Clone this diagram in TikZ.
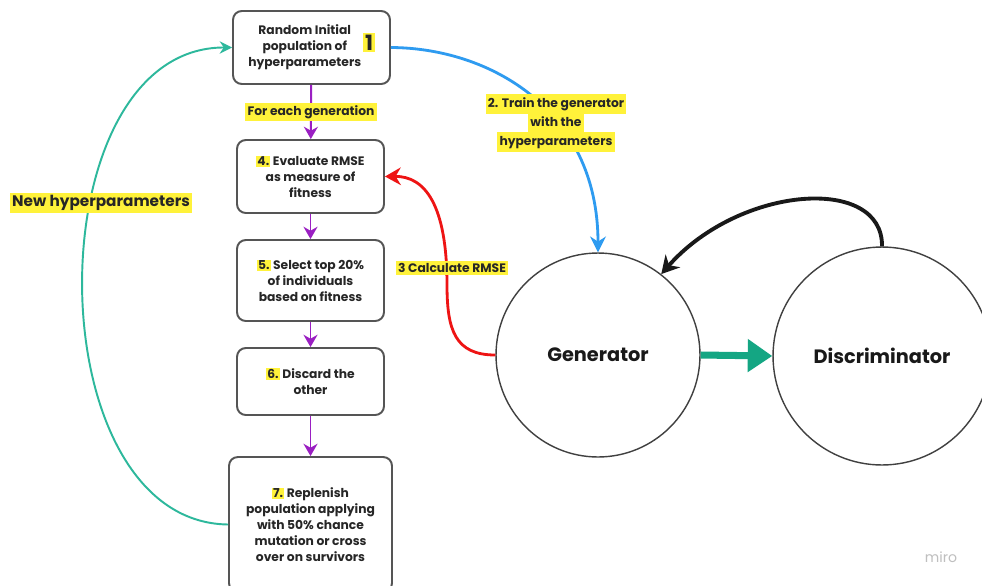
\documentclass[tikz,border=0pt]{standalone}
\usepackage{fontspec}
\setmainfont{Poppins}
\usetikzlibrary{arrows.meta}
\definecolor{hly}{HTML}{FFF23A}
\definecolor{boxline}{HTML}{555555}
\definecolor{flowpurple}{HTML}{9A1FC2}
\definecolor{loopgreen}{HTML}{2DB89C}
\definecolor{gantteal}{HTML}{14A683}
\definecolor{trainblue}{HTML}{2E9BF0}
\definecolor{rmsered}{HTML}{EE1414}
\newcommand{\hlmark}[1]{{\setlength{\fboxsep}{0.6pt}\colorbox{hly}{#1}}}
\newcommand{\hlline}[1]{{\setlength{\fboxsep}{1.2pt}\colorbox{hly}{\strut #1}}}
\tikzset{
  stepbox/.style={draw=boxline, line width=1.1pt, rounded corners=5pt, fill=white,
    align=center, font=\fontsize{7}{9}\selectfont\bfseries, text=black!85,
    inner sep=2pt},
  hlabel/.style={fill=hly, inner sep=1.2pt, align=center,
    font=\fontsize{7}{9}\selectfont\bfseries, text=black!85},
  netnode/.style={draw=black!75, line width=0.8pt, circle, fill=white,
    font=\fontsize{11}{13}\selectfont\bfseries, text=black!90},
  flowarrow/.style={flowpurple, line width=1.1pt, -{Stealth[length=7pt,width=8pt]}},
}
\begin{document}
\begin{tikzpicture}[x=0.02cm,y=-0.02cm]
\useasboundingbox (0,0) rectangle (982,585);
\fill[white] (0,0) rectangle (982,585);

% column of genetic-algorithm steps
\node[stepbox, minimum width=3.14cm, minimum height=1.46cm] (init) at (311.5,47.5)
  {\begin{tabular}{@{}c@{}}Random Initial\\population of\\hyperparameters\end{tabular}\,{\setlength{\fboxsep}{1pt}\colorbox{hly}{\fontsize{12}{12}\selectfont 1}}};
\node[stepbox, minimum width=2.94cm, minimum height=1.46cm] (eval) at (310.5,176.5)
  {\hlmark{4.} Evaluate RMSE\\as measure of\\fitness};
\node[stepbox, minimum width=2.94cm, minimum height=1.62cm] (select) at (310.5,280.5)
  {\hlmark{5.} Select top 20\%\\of individuals\\based on fitness};
\node[stepbox, minimum width=2.94cm, minimum height=1.34cm] (discard) at (310.5,381.5)
  {\hlmark{6.} Discard the\\other};
\node[stepbox, minimum width=3.26cm, minimum height=2.7cm] (replenish) at (310.5,524.5)
  {\hlmark{7.} Replenish\\population applying\\with 50\% chance\\mutation or cross\\over on survivors};

\draw[flowarrow] (init) -- node[hlabel] (gen) {For each generation} (eval);
\draw[flowarrow] (eval) -- (select);
\draw[flowarrow] (select) -- (discard);
\draw[flowarrow] (discard) -- (replenish);

% loop back with new hyperparameters
\draw[loopgreen, line width=1.1pt, -{Stealth[length=7pt,width=7pt]}]
  (replenish.west) .. controls (34,522) and (34,47) .. (init.west);
\node[hlabel, font=\fontsize{8.7}{11}\selectfont\bfseries] (newhp) at (101,203) {New hyperparameters};

% GAN pair
\node[netnode, minimum size=4.08cm] (generator) at (598,355) {Generator};
\node[netnode, minimum size=4.36cm] (discriminator) at (882,356) {Discriminator};

\draw[gantteal, line width=4pt, -{Triangle[length=14pt,width=18pt]}]
  (generator.east) -- (discriminator.west);

\draw[black!90, line width=2.2pt, -{Stealth[length=10pt,width=11pt]}]
  (discriminator.north) .. controls (883,175) and (740,185) .. (generator.52);

% training and evaluation connectors
\draw[trainblue, line width=1.6pt, -{Stealth[length=9pt,width=9pt]}]
  (init.east) .. controls (490,48) and (598,110) .. (generator.north);
\node[align=center, inner sep=0pt, font=\fontsize{7}{8.6}\selectfont\bfseries, text=black!85]
  (train) at (556,123)
  {\hlline{2. Train the generator}\\[-1.2pt]\hlline{with the}\\[-1.2pt]\hlline{hyperparameters}};

\draw[rmsered, line width=1.6pt, -{Stealth[length=9pt,width=10pt]}]
  (generator.west) .. controls (455,355) and (447,330) .. (447,285)
  .. controls (447,205) and (425,176) .. (eval.east);
\node[hlabel] (calc) at (452,268) {3 Calculate RMSE};

% watermark
\node[text=black!25, font=\fontsize{8}{8}\selectfont] (miro) at (941,557) {miro};
\end{tikzpicture}
\end{document}
